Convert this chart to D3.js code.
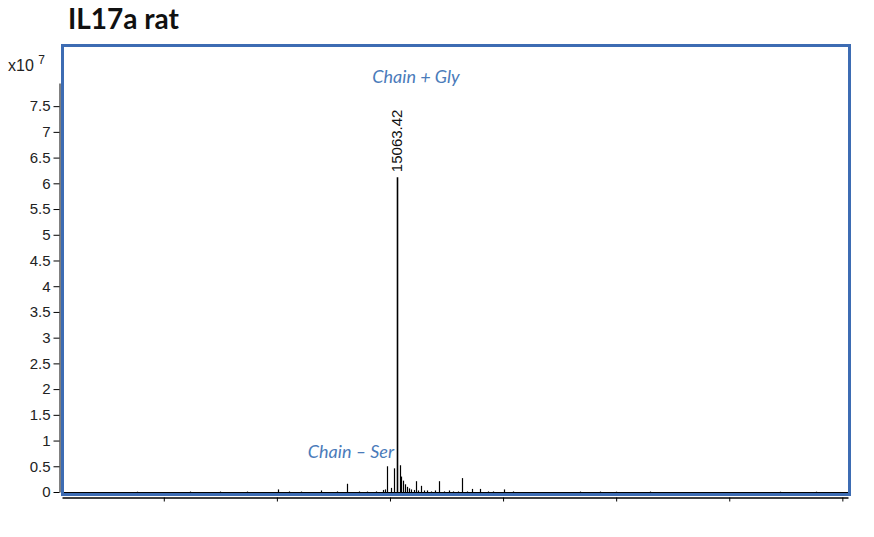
<!doctype html>
<html lang="en">
<head>
  <meta charset="utf-8">
  <script src="https://d3js.org/d3.v7.min.js"></script>
  <style>
    body { margin: 0; background: #fff; }
    svg { display: block; }
  </style>
</head>
<body>
  <div id="chart"></div>
  <script>
  // deconvoluted mass spectrum, intensities in units of 1e7
  var peakMass = [12760, 13230, 13500, 13735, 14009, 14106, 14215, 14389, 14530, 14619, 14726,
                  14800, 14880, 14940, 14960, 14976, 15010, 15040, 15063.42, 15085, 15100, 15115,
                  15130, 15150, 15170, 15190, 15210, 15230, 15250, 15274, 15300, 15330, 15360,
                  15400, 15434, 15480, 15520, 15560, 15600, 15637, 15680, 15726, 15796, 15870,
                  15910, 16009, 16090, 16680, 16860, 17000, 17300, 18450, 18770];
  var peakInt  = [0.01, 0.015, 0.015, 0.015, 0.05, 0.02, 0.015, 0.03, 0.02, 0.16, 0.02,
                  0.015, 0.02, 0.04, 0.05, 0.50, 0.08, 0.46, 6.12, 0.52, 0.30, 0.22,
                  0.15, 0.10, 0.07, 0.05, 0.04, 0.21, 0.03, 0.12, 0.03, 0.03, 0.02,
                  0.03, 0.21, 0.02, 0.03, 0.02, 0.02, 0.27, 0.02, 0.06, 0.06, 0.02,
                  0.02, 0.05, 0.02, 0.015, 0.015, 0.01, 0.015, 0.01, 0.01];
  var yTicks = [0, 0.5, 1, 1.5, 2, 2.5, 3, 3.5, 4, 4.5, 5, 5.5, 6, 6.5, 7, 7.5];
  var xTicks = [13000, 14000, 15000, 16000, 17000, 18000, 19000];
  var labelMass = 15063.42;
  var annoText  = ["Chain + Gly", "Chain \u2013 Ser"];
  var annoMass  = [15230, 14655];
  var annoValue = [7.95, 0.66];

  var width = 874, height = 537;
  var svg = d3.select("#chart").append("svg")
      .attr("width", width)
      .attr("height", height);

  var x = d3.scaleLinear().domain([12100, 19050]).range([62, 848]);
  var y = d3.scaleLinear().domain([0, 7.95]).range([492, 83]);

  // title
  svg.append("text")
     .attr("x", 68).attr("y", 29)
     .style("font-family", "Lato, 'Open Sans', sans-serif")
     .style("font-weight", "bold")
     .style("font-size", "28px")
     .style("fill", "#111")
     .text("IL17a rat");

  // y axis
  var yAxis = svg.append("g")
     .attr("transform", "translate(59.5,0)")
     .call(d3.axisLeft(y).tickValues(yTicks).tickSize(6).tickSizeOuter(0).tickPadding(3)
           .tickFormat(d3.format("")));
  yAxis.selectAll("text")
     .style("font-family", "'Liberation Sans', Arial, sans-serif")
     .style("font-size", "15px")
     .style("fill", "#222");
  yAxis.selectAll("line, path").attr("stroke", "#000");

  // exponent label
  var expo = svg.append("text")
     .attr("x", 8).attr("y", 71)
     .style("font-family", "'Liberation Sans', Arial, sans-serif")
     .style("font-size", "16px")
     .style("fill", "#222");
  expo.append("tspan").text("x10 ");
  expo.append("tspan").attr("dy", -7).style("font-size", "12px").text("7");

  // x axis (ticks only)
  var xAxis = svg.append("g")
     .attr("transform", "translate(0,497.5)")
     .call(d3.axisBottom(x).tickValues(xTicks).tickSize(4).tickSizeOuter(0).tickFormat(""));
  xAxis.selectAll("line, path").attr("stroke", "#000");
  xAxis.select(".domain").attr("stroke-width", 1.5);

  // baseline of spectrum
  svg.append("line")
     .attr("x1", x.range()[0]).attr("x2", x.range()[1])
     .attr("y1", y(0) + 0.5).attr("y2", y(0) + 0.5)
     .attr("stroke", "#000").attr("stroke-width", 1.2);

  // spectrum sticks
  var peaks = peakMass.map(function (m, i) { return {mass: m, value: peakInt[i]}; });
  svg.append("g").selectAll("line")
     .data(peaks)
     .enter()
     .append("line")
     .attr("x1", function (d) { return Math.round(x(d.mass)) + 0.5; })
     .attr("x2", function (d) { return Math.round(x(d.mass)) + 0.5; })
     .attr("y1", y(0))
     .attr("y2", function (d) { return y(d.value); })
     .attr("stroke", function (d) { return d.value < 0.03 ? "#777" : "#000"; })
     .attr("stroke-width", function (d) { return d.mass === labelMass ? 1.6 : 1.2; });

  // peak label
  var lp = peaks.filter(function (d) { return d.mass === labelMass; })[0];
  svg.append("text")
     .attr("transform", "translate(" + (x(lp.mass) + 5) + "," + (y(lp.value) - 5) + ") rotate(-90)")
     .style("font-family", "'Liberation Sans', Arial, sans-serif")
     .style("font-size", "15px")
     .style("fill", "#111")
     .text(d3.format(".2f")(lp.mass));

  // annotations
  svg.selectAll(".anno")
     .data(annoText)
     .enter()
     .append("text")
     .attr("class", "anno")
     .attr("x", function (d, i) { return x(annoMass[i]); })
     .attr("y", function (d, i) { return y(annoValue[i]); })
     .attr("text-anchor", "middle")
     .style("font-family", "Lato, 'Open Sans', sans-serif")
     .style("font-style", "italic")
     .style("font-size", "18px")
     .style("fill", "#4a7bba")
     .text(function (d) { return d; });

  // frame
  svg.append("rect")
     .attr("x", 62.5).attr("y", 45.5)
     .attr("width", 787).attr("height", 449)
     .attr("fill", "none")
     .attr("stroke", "#3d6cb3")
     .attr("stroke-width", 3);
  </script>
</body>
</html>
